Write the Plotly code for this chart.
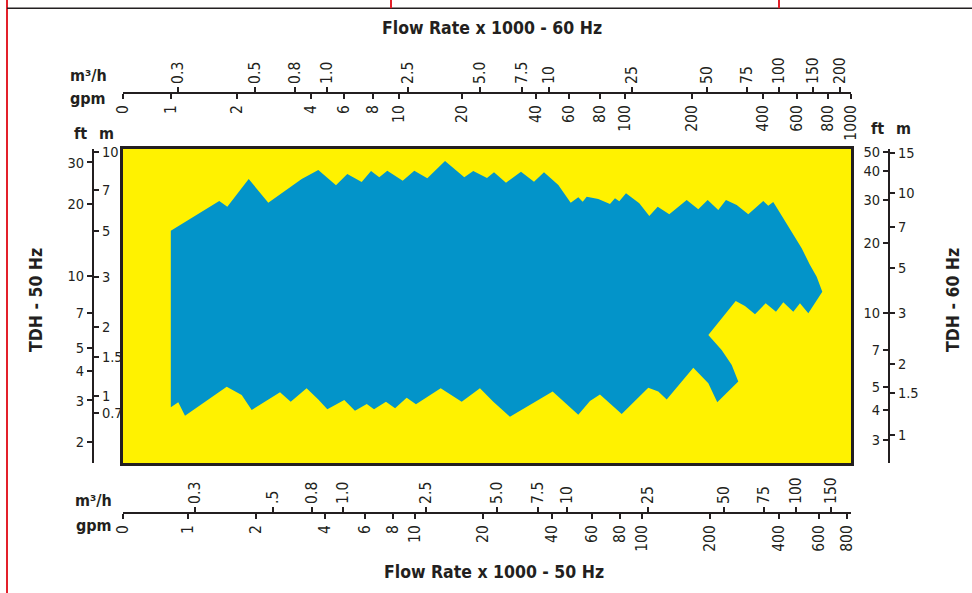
import math
import plotly.graph_objects as go

# ---------------- data ----------------
# Operating envelope, expressed on the 50 Hz scales (flow in gpm x1000, head in ft)
flow_gpm_50 = [0.84, 0.84, 1.373, 1.490, 1.851, 2.258, 3.169, 3.750, 4.487, 5.032,
               5.823, 6.402, 6.961, 7.551, 8.829, 9.929, 11.33, 13.56, 16.49, 18.06,
               20.76, 22.29, 25.17, 29.31, 33.44, 37.01, 42.80, 48.52, 52.42, 54.81,
               57.08, 64.21, 72.28, 76.03, 79.43, 85.03, 97.30, 107.7, 117.3, 131.9,
               157.4, 177.0, 194.7, 216.8, 234.4, 261.4, 294.0, 342.2, 360.0, 378.7,
               419.3, 464.1, 505.3, 549.8, 588.3, 622.8, 540.4, 496.6, 464.1, 419.3,
               389.3, 350.7, 314.7, 284.2, 258.8, 196.0, 224.4, 248.5, 265.6, 214.6,
               196.0, 168.3, 128.5, 118.0, 106.6, 81.4, 65.3, 59.0, 52.4, 40.4,
               26.2, 22.13, 19.33, 16.06, 12.98, 10.10, 9.19, 8.17, 7.45, 6.60,
               6.13, 5.44, 4.88, 4.11, 3.75, 3.33, 2.835, 2.543, 1.908, 1.724,
               1.481, 0.970, 0.906]
head_ft_50 = [2.81, 15.50, 20.66, 19.55, 25.56, 20.32, 25.56, 27.88, 24.05, 26.83,
              24.83, 27.61, 25.98, 27.69, 25.14, 27.69, 25.73, 30.42, 25.98, 27.61,
              25.81, 27.27, 24.66, 27.43, 24.90, 27.27, 24.12, 20.32, 21.41, 20.52,
              21.54, 21.07, 20.07, 21.21, 20.60, 22.26, 20.21, 17.87, 19.55, 18.16,
              20.86, 19.07, 20.86, 18.94, 20.86, 19.88, 18.16, 20.66, 19.74, 20.46,
              17.48, 14.87, 13.07, 11.12, 9.93, 8.59, 6.97, 7.68, 7.08, 7.75,
              7.08, 7.68, 6.90, 7.48, 7.85, 5.65, 4.89, 4.23, 3.60, 2.947,
              3.54, 4.12, 3.03, 3.27, 3.39, 2.63, 3.18, 2.985, 2.61, 3.27,
              2.564, 2.964, 3.375, 2.964, 3.375, 2.89, 3.08, 2.78, 2.964, 2.754,
              2.90, 2.716, 3.013, 2.754, 3.03, 3.375, 2.964, 3.245, 2.735, 3.162,
              3.426, 2.588, 2.947]

# axis extents (50 Hz gpm, 50 Hz ft)
flow_min, flow_max = 0.5172, 833.3
head_min, head_max = 1.638, 34.17

# bottom axis: gpm (50 Hz) -- label values
bottom_gpm_labels = ["0", "1", "2", "4", "6", "8", "10", "20", "40", "60", "80", "100",
                     "200", "400", "600", "800"]
bottom_gpm_values = [None, 1, 2, 4, 6, 8, 10, 20, 40, 60, 80, 100, 200, 400, 600, 800]
# bottom axis: m3/h (50 Hz), position on the 50 Hz gpm scale
bottom_m3h_labels = ["0.3", ".5", "0.8", "1.0", "2.5", "5.0", "7.5", "10", "25", "50",
                     "75", "100", "150"]
bottom_m3h_at_gpm = [1.07, 2.37, 3.52, 4.82, 11.2, 23.0, 34.8, 46.7, 106, 230, 345, 477, 680]

# top axis: gpm (60 Hz), position on the 50 Hz gpm scale
top_gpm_labels = ["0", "1", "2", "4", "6", "8", "10", "20", "40", "60", "80", "100",
                  "200", "400", "600", "800", "1000"]
top_gpm_at_gpm50 = [None, 0.842, 1.644, 3.48, 4.87, 6.53, 8.50, 16.1, 34.1, 47.7, 65.3,
                    84.2, 166, 341, 482, 660, 831]
# top axis: m3/h (60 Hz)
top_m3h_labels = ["0.3", "0.5", "0.8", "1.0", "2.5", "5.0", "7.5", "10", "25", "50",
                  "75", "100", "150", "200"]
top_m3h_at_gpm50 = [0.904, 1.973, 2.960, 4.096, 9.316, 19.33, 29.60, 38.93, 90.36, 193.4,
                    290.1, 401.3, 566.6, 745.2]

# left axis: ft (50 Hz) and m (50 Hz, position on ft scale)
left_ft_labels = ["2", "3", "4", "5", "7", "10", "20", "30"]
left_ft_values = [2, 3, 4, 5, 7, 10, 20, 30]
left_m_labels = ["10", "7", "5", "3", "2", "1.5", "1", "0.7"]
left_m_at_ft50 = [33.2, 23.0, 15.5, 9.9, 6.11, 4.57, 3.12, 2.66]

# right axis: ft (60 Hz) and m (60 Hz), positions on the 50 Hz ft scale
right_ft_labels = ["50", "40", "30", "20", "10", "7", "5", "4", "3"]
right_ft_at_ft50 = [33.2, 27.6, 20.9, 13.8, 6.99, 4.89, 3.42, 2.74, 2.05]
right_m_labels = ["15", "10", "7", "5", "3", "2", "1.5", "1"]
right_m_at_ft50 = [32.9, 22.3, 16.1, 10.8, 6.99, 4.27, 3.22, 2.15]

# ---------------- styling ----------------
W, H = 972, 593
INK = "#231F20"
BLUE = "#0394C9"
YELLOW = "#FFF200"
RED = "#E3202A"
FONT = "Liberation Sans Narrow, Arial Narrow, DejaVu Sans Condensed, sans-serif"

xr = [math.log10(flow_min), math.log10(flow_max)]
yr = [math.log10(head_min), math.log10(head_max)]
x_edge = 10 ** (xr[0] + 0.001)

def px_x(p):
    return p / W

def px_y(p):
    return 1 - p / H

x_dom = [px_x(123), px_x(851)]
y_dom = [px_y(463), px_y(149)]

fig = go.Figure()
fig.add_trace(go.Scatter(x=flow_gpm_50, y=head_ft_50, fill="toself", fillcolor=BLUE,
                         mode="lines", line=dict(width=0, color=BLUE),
                         hoverinfo="skip", showlegend=False))

# invisible companions so every scale is drawn
for xa, ya in [("x2", "y"), ("x3", "y"), ("x4", "y"), ("x5", "y"),
               ("x", "y2"), ("x", "y3"), ("x", "y4"), ("x", "y5")]:
    fig.add_trace(go.Scatter(x=flow_gpm_50[:2], y=head_ft_50[:2], mode="none",
                             xaxis=xa, yaxis=ya, hoverinfo="skip", showlegend=False))

xtickfont = dict(family=FONT, size=15.5, color=INK)
ytickfont = dict(family=FONT, size=14.5, color=INK)

def sec_x(pos, side, vals, texts):
    vals = [x_edge if v is None else v for v in vals]
    return dict(type="log", range=xr, overlaying="x", anchor="free", position=pos,
                side=side, tickmode="array", tickvals=vals, ticktext=texts,
                ticks="outside", ticklen=5, tickwidth=1.5, tickcolor=INK,
                tickangle=-90, tickfont=xtickfont, showline=True, linewidth=2,
                linecolor=INK, showgrid=False, zeroline=False, automargin=False)

def sec_y(pos, side, vals, texts):
    return dict(type="log", range=yr, overlaying="y", anchor="free", position=pos,
                side=side, tickmode="array", tickvals=vals, ticktext=texts,
                ticks="outside", ticklen=5, tickwidth=1.5, tickcolor=INK,
                tickfont=ytickfont, showline=True, linewidth=2,
                linecolor=INK, showgrid=False, zeroline=False, automargin=False)

top_pos = px_y(93)
bot_pos = px_y(513)
left_pos = px_x(93)
right_pos = px_x(889)

fig.update_layout(
    width=W, height=H, margin=dict(l=0, r=0, t=0, b=0),
    paper_bgcolor="white", plot_bgcolor=YELLOW, showlegend=False,
    xaxis=dict(type="log", range=xr, domain=x_dom, showticklabels=False, ticks="",
               showgrid=False, zeroline=False, showline=True, mirror=True,
               linewidth=3, linecolor=INK, automargin=False),
    yaxis=dict(type="log", range=yr, domain=y_dom, showticklabels=False, ticks="",
               showgrid=False, zeroline=False, showline=True, mirror=True,
               linewidth=3, linecolor=INK, automargin=False),
    xaxis2=sec_x(top_pos, "bottom", top_gpm_at_gpm50, top_gpm_labels),
    xaxis3=sec_x(top_pos, "top", top_m3h_at_gpm50, top_m3h_labels),
    xaxis4=sec_x(bot_pos, "bottom", bottom_gpm_values, bottom_gpm_labels),
    xaxis5=sec_x(bot_pos, "top", bottom_m3h_at_gpm, bottom_m3h_labels),
    yaxis2=sec_y(left_pos, "left", left_ft_values, left_ft_labels),
    yaxis3=sec_y(left_pos, "right", left_m_at_ft50, left_m_labels),
    yaxis4=sec_y(right_pos, "left", right_ft_at_ft50, right_ft_labels),
    yaxis5=sec_y(right_pos, "right", right_m_at_ft50, right_m_labels),
)

def label(text, x, y, size=16, angle=0, xanchor="center"):
    fig.add_annotation(text="<b>" + text + "</b>", x=px_x(x), y=px_y(y), xref="paper",
                       yref="paper", showarrow=False, textangle=angle,
                       xanchor=xanchor, yanchor="middle",
                       font=dict(family=FONT, size=size, color=INK))

label("Flow Rate x 1000 - 60 Hz", 492, 28, size=17.5)
label("Flow Rate x 1000 - 50 Hz", 494, 572, size=17.5)
label("TDH - 50 Hz", 36, 300, size=17.5, angle=-90)
label("TDH - 60 Hz", 953, 300, size=17.5, angle=-90)
label("m³/h", 109, 75, xanchor="right")
label("gpm", 108, 99, xanchor="right")
label("m³/h", 114, 500, xanchor="right")
label("gpm", 114, 525, xanchor="right")
label("ft", 80, 133)
label("m", 106, 133)
label("ft", 877, 129)
label("m", 903, 129)

# page frame
fig.add_shape(type="line", xref="paper", yref="paper", x0=px_x(7), x1=px_x(7), y0=0, y1=1,
              line=dict(color=RED, width=2))
fig.add_shape(type="line", xref="paper", yref="paper", x0=px_x(7), x1=1, y0=px_y(8.3),
              y1=px_y(8.3), line=dict(color=INK, width=1.5))
for xx in (391, 779):
    fig.add_shape(type="line", xref="paper", yref="paper", x0=px_x(xx), x1=px_x(xx),
                  y0=px_y(8.3), y1=1, line=dict(color=RED, width=2))

fig.write_html("out.html",
               config={"displayModeBar": False},
               post_script="document.body.style.margin='0px';"
                           "document.body.style.overflow='hidden';")
